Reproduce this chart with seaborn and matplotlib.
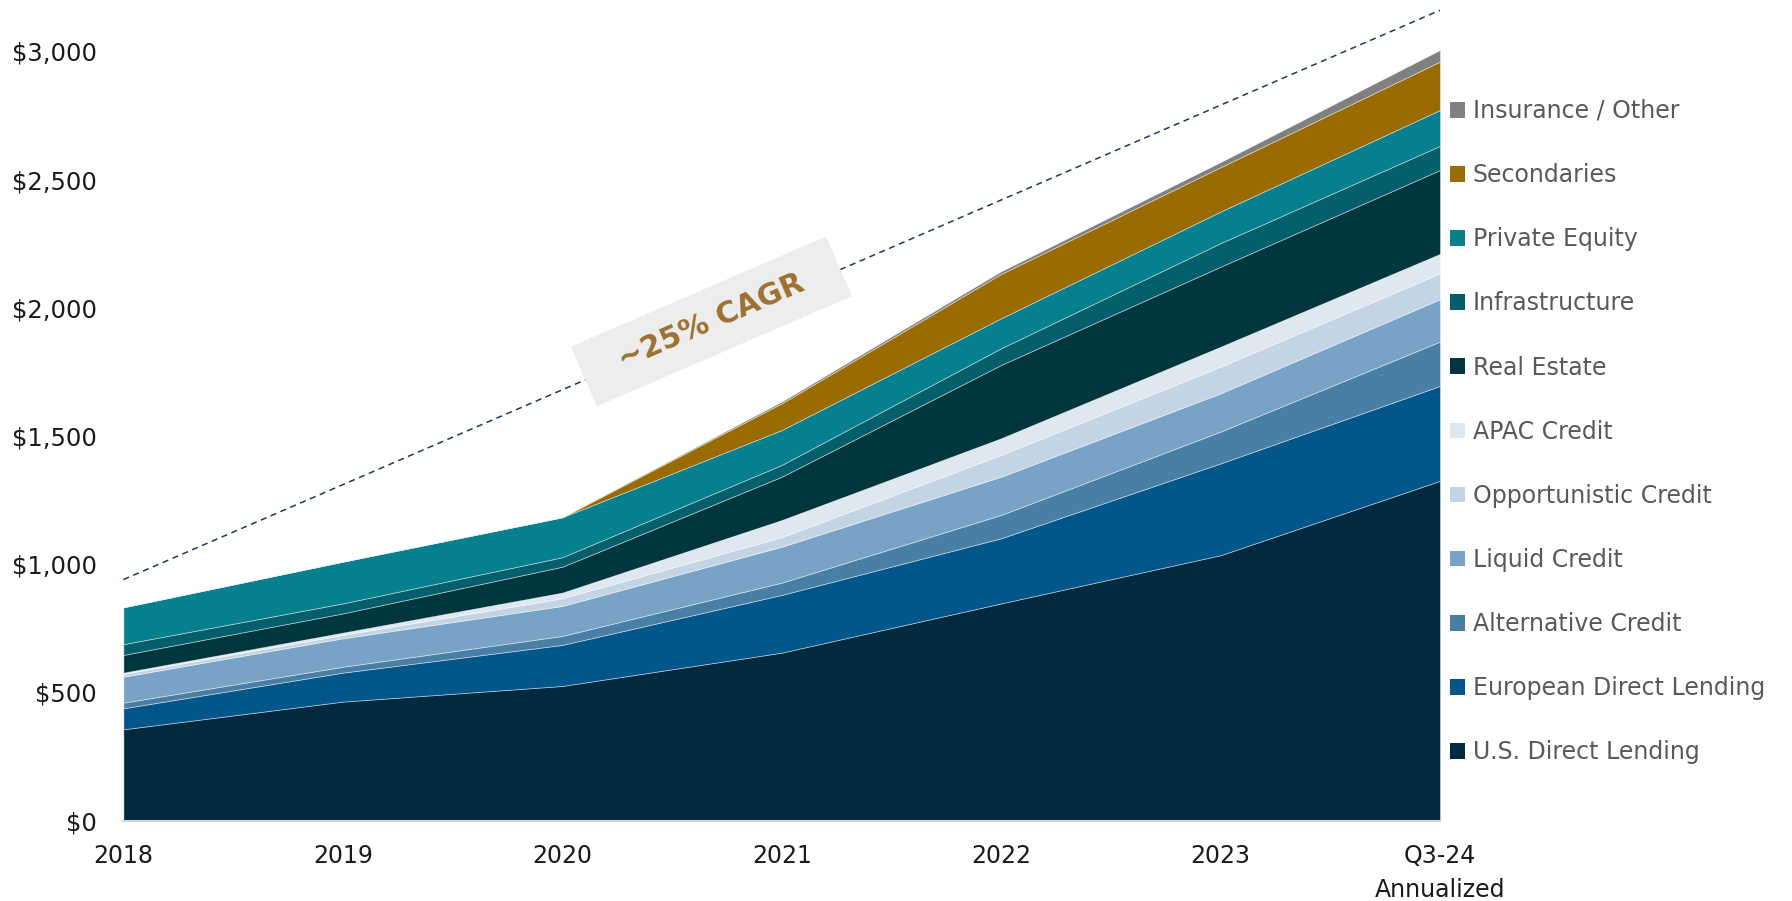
import math
import numpy as np
import pandas as pd
import matplotlib
matplotlib.use("Agg")
import matplotlib.pyplot as plt
import seaborn as sns
from matplotlib.patches import Patch, Rectangle
from matplotlib.transforms import IdentityTransform

# ---------------- data ----------------
periods = ["2018", "2019", "2020", "2021", "2022", "2023", "Q3-24\nAnnualized"]
us_direct_lending = [356, 464, 525, 655, 847, 1035, 1325]
european_direct_lending = [82, 113, 160, 225, 254, 358, 370]
alternative_credit = [22, 23, 35, 48, 91, 124, 173]
liquid_credit = [101, 111, 117, 140, 149, 149, 165]
opportunistic_credit = [11, 13, 30, 37, 85, 104, 101]
apac_credit = [5, 9, 22, 67, 65, 78, 76]
real_estate = [69, 75, 101, 169, 286, 312, 327]
infrastructure = [42, 39, 37, 46, 65, 92, 94]
private_equity = [144, 163, 156, 136, 117, 123, 140]
secondaries = [0, 0, 0, 104, 173, 173, 189]
insurance_other = [0, 0, 0, 7, 10, 20, 45]

series_names = ["U.S. Direct Lending", "European Direct Lending", "Alternative Credit",
                "Liquid Credit", "Opportunistic Credit", "APAC Credit", "Real Estate",
                "Infrastructure", "Private Equity", "Secondaries", "Insurance / Other"]
series_values = [us_direct_lending, european_direct_lending, alternative_credit,
                 liquid_credit, opportunistic_credit, apac_credit, real_estate,
                 infrastructure, private_equity, secondaries, insurance_other]
series_colors = ["#012A40", "#03568A", "#4A7FA5", "#79A3C6", "#C3D5E5", "#DFE8F1",
                 "#02363F", "#045E6B", "#067F8E", "#996B00", "#808080"]

cagr_x = [0, 6]
cagr_values = [940, 3160]
cagr_label = "~25% CAGR"
yticks = [0, 500, 1000, 1500, 2000, 2500, 3000]

# ---------------- figure ----------------
sns.set_theme(style="white")
plt.rcParams["font.family"] = ["DejaVu Sans"]

W, H, DPI = 1792, 901, 100
fig = plt.figure(figsize=(W / DPI, H / DPI), dpi=DPI)
ax = fig.add_axes([123.4 / W, 80.4 / H, (1440 - 123.4) / W, (901 - 80.4) / H])

x = np.arange(len(periods))
df = pd.DataFrame({n: v for n, v in zip(series_names, series_values)}, index=x)

ax.stackplot(x, *[df[n].values for n in series_names], colors=series_colors,
             edgecolor=(1, 1, 1, 0.45), linewidth=0.6, zorder=2)

# CAGR dashed trend line
trend = pd.DataFrame({"x": cagr_x, "y": cagr_values})
sns.lineplot(data=trend, x="x", y="y", ax=ax, color="#1F3A52", linewidth=1.1,
             dashes=False, zorder=3, clip_on=False)
ax.lines[-1].set_dashes([4, 3])

ax.set_xlim(0, 6)
ax.set_ylim(0, 3200)
ax.set_xticks(x)
ax.set_xticklabels(periods, fontsize=17, color="#1A1A1A", linespacing=1.55)
ax.set_yticks(yticks)
ax.set_yticklabels([f"${v:,.0f}" for v in yticks], fontsize=17.5, color="#1A1A1A")
ax.set_xlabel("")
ax.set_ylabel("")
ax.tick_params(axis="x", length=5.5, width=1.5, color="#D6D6D6", pad=11)
ax.tick_params(axis="y", length=0, pad=19)
for s in ["top", "right", "left"]:
    ax.spines[s].set_visible(False)
ax.spines["bottom"].set_color("#D6D6D6")
ax.spines["bottom"].set_linewidth(1.5)
ax.grid(False)

# CAGR label box, aligned with the trend line
p0 = ax.transData.transform((cagr_x[0], cagr_values[0]))
p1 = ax.transData.transform((cagr_x[1], cagr_values[1]))
angle = math.degrees(math.atan2(p1[1] - p0[1], p1[0] - p0[0]))
lx = 2.68
ly = cagr_values[0] + (cagr_values[1] - cagr_values[0]) * lx / 6 + 15
c = ax.transData.transform((lx, ly))
bw, bh = 278, 65
box = Rectangle((c[0] - bw / 2, c[1] - bh / 2), bw, bh, angle=angle,
                rotation_point="center", transform=IdentityTransform(),
                facecolor="#EDEDED", edgecolor="none", zorder=4)
fig.patches.append(box)
fig.text(c[0] / W, c[1] / H, cagr_label, rotation=angle, rotation_mode="anchor",
         ha="center", va="center", fontsize=21.5, fontweight="bold",
         color="#9C7130", zorder=5)

# legend (top = last series)
handles = [Patch(facecolor=col, edgecolor="none", label=n)
           for n, col in zip(series_names[::-1], series_colors[::-1])]
leg = fig.legend(handles=handles, loc="upper left",
                 bbox_to_anchor=(1450 / W, 1 - 99 / H), frameon=False,
                 fontsize=17, handlelength=0.64, handleheight=0.64,
                 handletextpad=0.33, labelspacing=1.70, borderpad=0, borderaxespad=0)
for t in leg.get_texts():
    t.set_color("#595959")

fig.savefig("out.png", dpi=DPI)
